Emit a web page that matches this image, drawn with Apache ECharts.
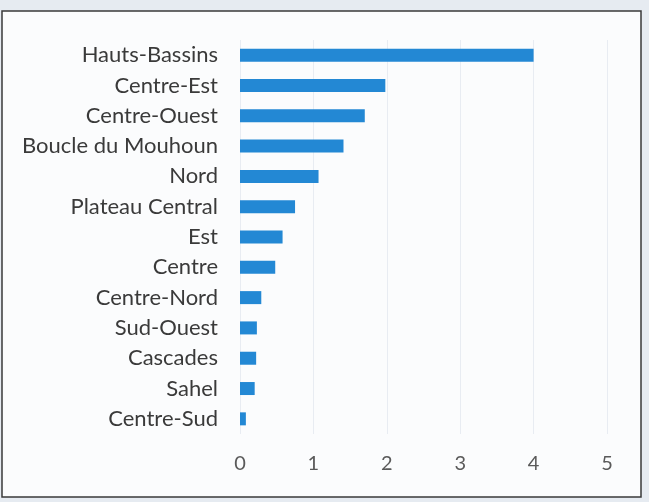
<!DOCTYPE html>
<html>
<head>
<meta charset="utf-8">
<script src="https://cdn.jsdelivr.net/npm/echarts@6/dist/echarts.min.js"></script>
<style>
html, body { margin: 0; padding: 0; background: #e6ebf1; }
#main { width: 649px; height: 502px; }
</style>
</head>
<body>
<div id="main"></div>
<script>
var myChart = echarts.init(document.getElementById('main'));

// régions, du bas vers le haut (l'axe catégorie part du bas)
var regions = ['Centre-Sud', 'Sahel', 'Cascades', 'Sud-Ouest', 'Centre-Nord', 'Centre',
    'Est', 'Plateau Central', 'Nord', 'Boucle du Mouhoun', 'Centre-Ouest', 'Centre-Est', 'Hauts-Bassins'];
var values = [0.08, 0.2, 0.22, 0.23, 0.29, 0.48, 0.58, 0.75, 1.07, 1.41, 1.7, 1.98, 4.0];
var xTicks = [0, 1, 2, 3, 4, 5];

var option = {
    backgroundColor: '#e6ebf1',
    graphic: [
        {
            type: 'rect',
            shape: { x: 2, y: 11, width: 639, height: 486 },
            style: { fill: '#fbfcfd', stroke: '#3a3a3a', lineWidth: 1.5 },
            z: -10
        }
    ],
    grid: {
        left: 240,
        right: 42,
        top: 40,
        bottom: 68
    },
    xAxis: {
        type: 'value',
        min: xTicks[0],
        max: xTicks[xTicks.length - 1],
        interval: 1,
        axisLine: { show: false },
        axisTick: { show: false },
        splitLine: { lineStyle: { color: '#e8ecf2', width: 1 } },
        axisLabel: {
            color: '#5a5a5a',
            fontFamily: 'Lato',
            fontSize: 20,
            margin: 20
        }
    },
    yAxis: {
        type: 'category',
        data: regions,
        axisLine: { show: false },
        axisTick: { show: false },
        axisLabel: {
            color: '#3a3a3a',
            fontFamily: 'Lato',
            fontSize: 22,
            margin: 22
        }
    },
    series: [{
        type: 'bar',
        data: values,
        barWidth: 13,
        itemStyle: { color: '#2388d4' }
    }]
};

myChart.setOption(option);
</script>
</body>
</html>
